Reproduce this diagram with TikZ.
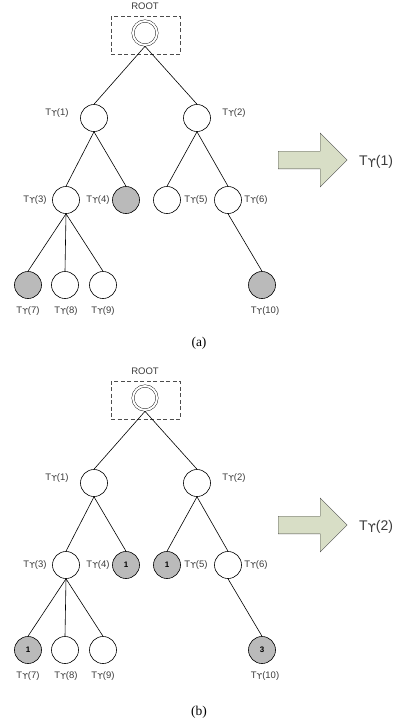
\documentclass[tikz,border=0pt]{standalone}
\usepackage{fontspec}
\setmainfont{Liberation Sans}
\newfontfamily\capfont{Liberation Serif}
\newfontfamily\upsfont{DejaVu Sans}
\usepackage{tikz}
\usetikzlibrary{shapes.arrows}

\definecolor{arrowgreen}{RGB}{216,222,198}
\definecolor{labelgray}{RGB}{60,60,60}

% T with the hooked upsilon
\newcommand{\tups}{T\raisebox{-0.25ex}{\scalebox{0.85}{\upsfont ϒ}}}

\tikzset{
  tnode/.style={draw, circle, line width=0.6pt, minimum size=27pt, inner sep=0pt, font=\fontsize{8}{9}\selectfont\bfseries},
  hit/.style={tnode, fill=black!27},
  lbl/.style={inner sep=0pt, text=labelgray, font=\fontsize{9.5}{11}\selectfont},
  edge/.style={line width=0.6pt},
  bigarrow/.style={draw=black!70, fill=arrowgreen, single arrow, single arrow head extend=18pt, single arrow tip angle=90, minimum width=54pt, minimum height=69pt, inner xsep=0pt, inner ysep=8.5pt},
  caption/.style={font=\capfont\fontsize{13.5}{16}\selectfont}
}

\begin{document}
\begin{tikzpicture}[x=1pt, y=-1pt]
    \useasboundingbox (0,0) rectangle (399,721);

    % (a) Root
    \node[lbl] (rlabela) at (145,6) {ROOT};
    \node[draw=black!70, dashed, dash pattern=on 4pt off 2.5pt, line width=0.7pt, minimum width=69pt, minimum height=38pt] (rboxa) at (145.5,35) {};
    \node[draw, circle, double, double distance=2pt, minimum size=24pt, inner sep=0pt, outer sep=1.3pt] (roota) at (145,33) {};

    % (a) Tree nodes
    \node[tnode] (a1) at (94,118) {};
    \node[tnode] (a2) at (197,118) {};
    \node[tnode] (a3) at (66,200) {};
    \node[hit] (a4) at (126,200) {};
    \node[tnode] (a5) at (167,200) {};
    \node[tnode] (a6) at (228,200) {};
    \node[hit] (a7) at (28,285) {};
    \node[tnode] (a8) at (65,285) {};
    \node[tnode] (a9) at (103,285) {};
    \node[hit] (a10) at (262,285) {};

    % (a) Labels
    \node[lbl] (la1) at (57,113) {\tups(1)};
    \node[lbl] (la2) at (234,113) {\tups(2)};
    \node[lbl] (la3) at (35,200) {\tups(3)};
    \node[lbl] (la4) at (98,200) {\tups(4)};
    \node[lbl] (la5) at (196,200) {\tups(5)};
    \node[lbl] (la6) at (256,200) {\tups(6)};
    \node[lbl] (la7) at (28,311) {\tups(7)};
    \node[lbl] (la8) at (66,311) {\tups(8)};
    \node[lbl] (la9) at (103,311) {\tups(9)};
    \node[lbl] (la10) at (265,311) {\tups(10)};

    % (a) Edges
    \draw[edge] (roota.south) -- (a1.north);
    \draw[edge] (roota.south) -- (a2.north);
    \draw[edge] (a1.south) -- (a3.north);
    \draw[edge] (a1.south) -- (a4.north);
    \draw[edge] (a2.south) -- (a5.north);
    \draw[edge] (a2.south) -- (a6.north);
    \draw[edge] (a3.south) -- (a7.north);
    \draw[edge] (a3.south) -- (a8.north);
    \draw[edge] (a3.south) -- (a9.north);
    \draw[edge] (a6.south) -- (a10.north);

    % (a) Result
    \node[bigarrow, anchor=tail] (arra) at (278,160) {};
    \node[text=labelgray, font=\fontsize{14}{16}\selectfont] (outa) at (376,162) {\tups(1)};
    \node[caption] (capa) at (199,343) {(a)};

    \begin{scope}[yshift=-365pt]
    % (b) Root
    \node[lbl] (rlabelb) at (145,6) {ROOT};
    \node[draw=black!70, dashed, dash pattern=on 4pt off 2.5pt, line width=0.7pt, minimum width=69pt, minimum height=38pt] (rboxb) at (145.5,35) {};
    \node[draw, circle, double, double distance=2pt, minimum size=24pt, inner sep=0pt, outer sep=1.3pt] (rootb) at (145,33) {};

    % (b) Tree nodes
    \node[tnode] (b1) at (94,118) {};
    \node[tnode] (b2) at (197,118) {};
    \node[tnode] (b3) at (66,200) {};
    \node[hit] (b4) at (126,200) {1};
    \node[hit] (b5) at (167,200) {1};
    \node[tnode] (b6) at (228,200) {};
    \node[hit] (b7) at (28,285) {1};
    \node[tnode] (b8) at (65,285) {};
    \node[tnode] (b9) at (103,285) {};
    \node[hit] (b10) at (262,285) {3};

    % (b) Labels
    \node[lbl] (lb1) at (57,113) {\tups(1)};
    \node[lbl] (lb2) at (234,113) {\tups(2)};
    \node[lbl] (lb3) at (35,200) {\tups(3)};
    \node[lbl] (lb4) at (98,200) {\tups(4)};
    \node[lbl] (lb5) at (196,200) {\tups(5)};
    \node[lbl] (lb6) at (256,200) {\tups(6)};
    \node[lbl] (lb7) at (28,311) {\tups(7)};
    \node[lbl] (lb8) at (66,311) {\tups(8)};
    \node[lbl] (lb9) at (103,311) {\tups(9)};
    \node[lbl] (lb10) at (265,311) {\tups(10)};

    % (b) Edges
    \draw[edge] (rootb.south) -- (b1.north);
    \draw[edge] (rootb.south) -- (b2.north);
    \draw[edge] (b1.south) -- (b3.north);
    \draw[edge] (b1.south) -- (b4.north);
    \draw[edge] (b2.south) -- (b5.north);
    \draw[edge] (b2.south) -- (b6.north);
    \draw[edge] (b3.south) -- (b7.north);
    \draw[edge] (b3.south) -- (b8.north);
    \draw[edge] (b3.south) -- (b9.north);
    \draw[edge] (b6.south) -- (b10.north);

    % (b) Result
    \node[bigarrow, anchor=tail] (arrb) at (278,160) {};
    \node[text=labelgray, font=\fontsize{14}{16}\selectfont] (outb) at (376,162) {\tups(2)};
    \node[caption] (capb) at (199,347) {(b)};
    \end{scope}
\end{tikzpicture}
\end{document}
